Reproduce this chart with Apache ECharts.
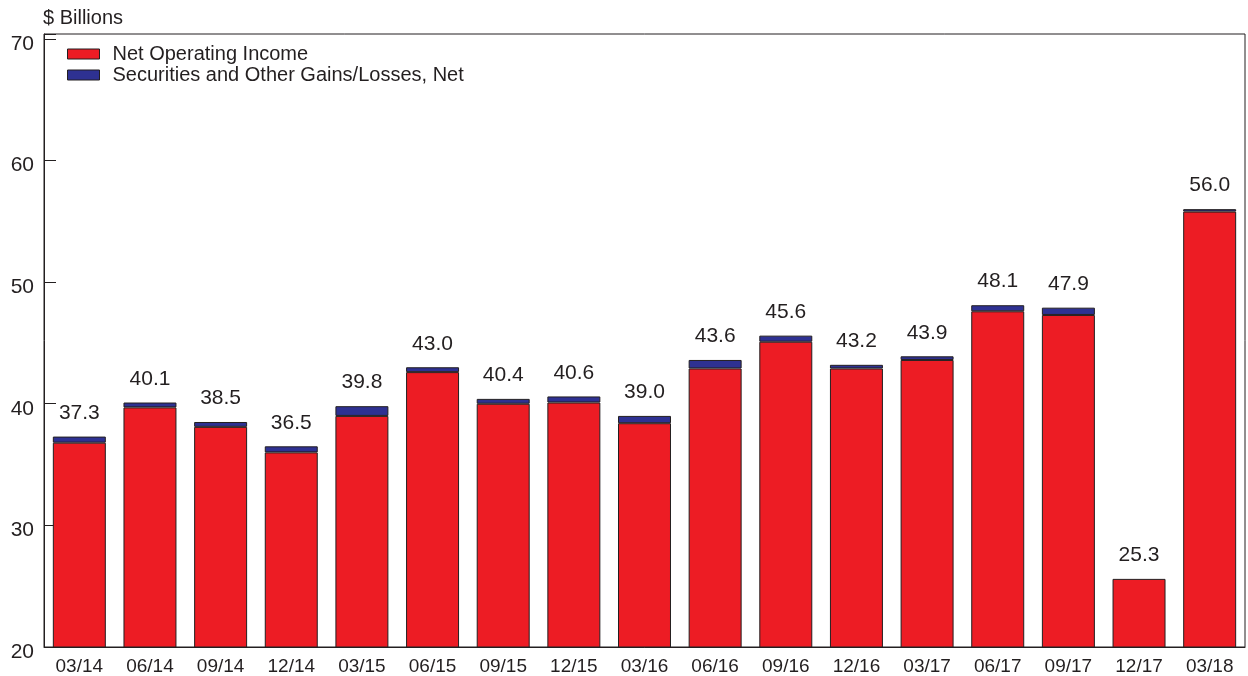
<!DOCTYPE html>
<html>
<head>
<meta charset="utf-8">
<script src="https://cdn.jsdelivr.net/npm/echarts@6/dist/echarts.min.js"></script>
<style>html,body{margin:0;padding:0;background:#fff}#c{width:1248px;height:676px}</style>
</head>
<body>
<div id="c"></div>
<script>
const categories = ['03/14','06/14','09/14','12/14','03/15','06/15','09/15','12/15','03/16','06/16','09/16','12/16','03/17','06/17','09/17','12/17','03/18'];
const netOperatingIncome = [36.8,39.7,38.1,36.0,39.0,42.6,40.0,40.1,38.4,42.9,45.1,42.9,43.6,47.6,47.3,25.6,55.8];
const securitiesGains = [0.5,0.4,0.4,0.5,0.8,0.4,0.4,0.5,0.6,0.7,0.5,0.3,0.3,0.5,0.6,-0.3,0.2];
const totalLabels = ['37.3','40.1','38.5','36.5','39.8','43.0','40.4','40.6','39.0','43.6','45.6','43.2','43.9','48.1','47.9','25.3','56.0'];
const yTicks = [20,30,40,50,60,70];

const labelPos = netOperatingIncome.map((v,i)=>Math.max(v, v+securitiesGains[i]));
const txt = '#231F20';
const font = 'Liberation Sans, Arial, sans-serif';

const chart = echarts.init(document.getElementById('c'));
chart.setOption({
  animation:false,
  textStyle:{fontFamily:font,color:txt},
  grid:{left:44,right:3,top:34,bottom:29,show:true,borderColor:txt,borderWidth:1,backgroundColor:'transparent'},
  graphic:[{type:'text',left:43,top:8,style:{text:'$ Billions',font:'20px '+font,fill:txt}}],
  legend:{
    orient:'vertical',left:62,top:39,itemWidth:32,itemHeight:10,itemGap:1,icon:'rect',
    textStyle:{fontSize:20,color:txt,fontFamily:font,lineHeight:20,padding:[0,0,0,8]},
    itemStyle:{borderColor:txt,borderWidth:1},
    data:['Net Operating Income','Securities and Other Gains/Losses, Net']
  },
  xAxis:{
    type:'category',data:categories,
    axisLine:{lineStyle:{color:txt,width:1}},
    axisTick:{show:false},
    axisLabel:{fontSize:19,color:txt,margin:10,fontFamily:font}
  },
  yAxis:{
    type:'value',min:yTicks[0],max:70.4,interval:10,
    splitLine:{show:false},
    axisLine:{show:true,lineStyle:{color:txt,width:1}},
    axisTick:{show:true,inside:true,length:12,lineStyle:{color:txt}},
    axisLabel:{fontSize:21,color:txt,margin:10,fontFamily:font,verticalAlign:'top',lineHeight:10,
      formatter:v=>yTicks.includes(Math.round(v*10)/10)?String(v):''}
  },
  series:[
    {name:'Net Operating Income',type:'bar',stack:'t',data:netOperatingIncome,barWidth:'75%',
      itemStyle:{color:'#ED1C24',borderColor:txt,borderWidth:1}},
    {name:'Securities and Other Gains/Losses, Net',type:'bar',stack:'t',data:securitiesGains,
      itemStyle:{color:'#2E3192',borderColor:txt,borderWidth:1}},
    {name:'labels',type:'scatter',data:labelPos,symbolSize:0.1,itemStyle:{color:'rgba(0,0,0,0)',opacity:1},
      silent:true,
      label:{show:true,position:'top',distance:13,fontSize:21,color:txt,opacity:1,fontFamily:font,
        formatter:p=>totalLabels[p.dataIndex]}}
  ]
});
</script>
</body>
</html>
